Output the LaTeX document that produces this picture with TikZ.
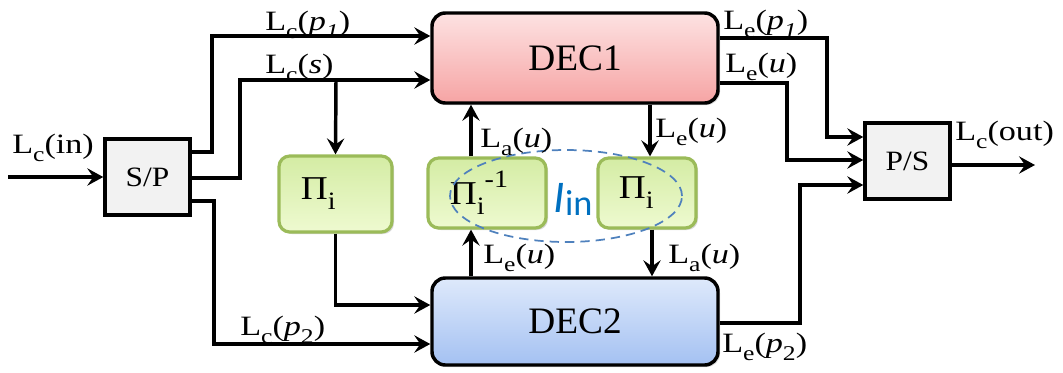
\documentclass[tikz,border=0pt]{standalone}
\usepackage{fontspec}
\setmainfont{Liberation Serif}
\newfontfamily\sffam{Carlito}
\usetikzlibrary{arrows.meta,shadows,shapes.geometric}
\definecolor{decAt}{HTML}{FDE2E2}
\definecolor{decAb}{HTML}{F6A4A4}
\definecolor{decBt}{HTML}{DEE9FB}
\definecolor{decBb}{HTML}{A4C1F2}
\definecolor{piT}{HTML}{D4ECA4}
\definecolor{piB}{HTML}{EEFAD0}
\definecolor{piBorder}{HTML}{9BBB59}
\definecolor{ellBlue}{HTML}{4F81BD}
\definecolor{iinBlue}{HTML}{0070C0}
\definecolor{spFill}{HTML}{F2F2F2}
\newcommand\dn[1]{\raisebox{-0.3em}{\scalebox{0.75}{#1}}}
\newcommand\upp[1]{\raisebox{0.5em}{\scalebox{0.75}{#1}}}
\newcommand\lbltext[1]{\scalebox{1.22}[1]{#1}}
\newcommand\boxtext[1]{\scalebox{1.12}[1]{#1}}
\begin{document}
\begin{tikzpicture}[x=0.75pt,y=-0.75pt,
  ln/.style={line width=2.6pt},
  arr/.style={line width=2.6pt,-{Stealth[length=12pt,width=13pt,inset=4.5pt]}},
  shad/.style={drop shadow={shadow xshift=1.5pt,shadow yshift=-1.5pt,opacity=0.3}},
  decbox/.style={draw=black,line width=2.6pt,rounded corners=10pt,inner sep=0pt,shad,
    font=\fontsize{28}{32}\selectfont},
  pibox/.style={draw=piBorder,line width=2.4pt,rounded corners=8pt,inner sep=0pt,shad,
    top color=piT,bottom color=piB,font=\fontsize{25}{30}\selectfont},
  sqbox/.style={draw=black,line width=2.6pt,inner sep=0pt,fill=spFill,shad,
    font=\fontsize{21}{24}\selectfont},
  lbl/.style={inner sep=0pt,anchor=base west,font=\fontsize{21}{24}\selectfont}
]
\useasboundingbox (0,0) rectangle (1063,372);

% boxes
\node[sqbox,minimum width=63.75pt,minimum height=57pt] (sp) at (147.5,177) {\boxtext{S/P}};
\node[sqbox,minimum width=63.75pt,minimum height=57pt] (ps) at (907.5,161) {\boxtext{P/S}};
\node[decbox,top color=decAt,bottom color=decAb,minimum width=214.5pt,minimum height=67.5pt] (dec1) at (575,58) {\raisebox{-2pt}{DEC1}};
\node[decbox,top color=decBt,bottom color=decBb,minimum width=214.5pt,minimum height=65.25pt] (dec2) at (575,321.5) {\raisebox{-2pt}{DEC2}};
\node[pibox,minimum width=84.75pt,minimum height=57pt] (pi1) at (335.5,194) {\boxtext{Π\dn{i}}\kern26pt};
\node[pibox,minimum width=88.5pt,minimum height=52.5pt] (piinv) at (487,193) {\boxtext{Π\dn{i}\upp{-1}}\kern12pt};
\node[pibox,minimum width=73.5pt,minimum height=52.5pt] (pi2) at (647,193) {\boxtext{Π\dn{i}}\kern16pt};

% interleaver ellipse and label
\node[ellipse,draw=ellBlue,dashed,dash pattern=on 7pt off 4.5pt,line width=1.3pt,
  minimum width=174pt,minimum height=69pt,inner sep=0pt] (ell) at (566,196) {};
\node[inner sep=0pt,anchor=base,text=iinBlue,font=\fontsize{34}{38}\sffam] (iin) at (573,212)
  {\textit{I}\raisebox{-0.08em}{\scalebox{0.8}{in}}};

% input / output
\coordinate (inp) at (8,177);
\coordinate (outp) at (1035,165);
\draw[arr] (inp) -- (sp.west |- inp);
\draw[arr] (ps.east |- outp) -- (outp);

% S/P outputs
\draw[arr] (sp.east |- 0,152) -| (212,36) -- (dec1.west |- 0,36);
\draw[arr] (sp.east |- 0,178) -| (240,80) -- (dec1.west |- 0,80);
\coordinate (br) at (336,80);
\draw[arr] (br) -- (pi1.north);
\draw[arr] (sp.east |- 0,201) -| (214,344) -- (dec2.west |- 0,344);
\draw[arr] (pi1.south) |- (dec2.west |- 0,305);

% exchanges
\draw[arr] (piinv.north -| 471,0) -- (dec1.south -| 471,0);
\draw[arr] (dec1.south -| 650,0) -- (pi2.north -| 650,0);
\draw[arr] (dec2.north -| 471,0) -- (piinv.south -| 471,0);
\draw[arr] (pi2.south -| 652,0) -- (dec2.north -| 652,0);

% decoder outputs
\draw[arr] (dec1.east |- 0,38) -| (827,137) -- (ps.west |- 0,137);
\draw[arr] (dec1.east |- 0,83) -| (787,160) -- (ps.west |- 0,160);
\draw[arr] (dec2.east |- 0,323) -| (800,185) -- (ps.west |- 0,185);

% labels
\node[lbl] (lin) at (12,153) {\lbltext{L\dn{c}(in)}};
\node[lbl] (lp1) at (265,30) {\lbltext{L\dn{c}(\textit{p}\dn{\textit{1}})}};
\node[lbl] (ls) at (265,73) {\lbltext{L\dn{c}(\textit{s})}};
\node[lbl] (lp2) at (240,335) {\lbltext{L\dn{c}(\textit{p}\dn{2})}};
\node[lbl] (lep1) at (723,29) {\lbltext{L\dn{e}(\textit{p}\dn{\textit{1}})}};
\node[lbl] (leu1) at (725,72) {\lbltext{L\dn{e}(\textit{u})}};
\node[lbl] (lau1) at (480,147) {\lbltext{L\dn{a}(\textit{u})}};
\node[lbl] (leu2) at (655,137) {\lbltext{L\dn{e}(\textit{u})}};
\node[lbl] (leu3) at (483,263) {\lbltext{L\dn{e}(\textit{u})}};
\node[lbl] (lau2) at (668,263) {\lbltext{L\dn{a}(\textit{u})}};
\node[lbl] (lep2) at (722,352) {\lbltext{L\dn{e}(\textit{p}\dn{2})}};
\node[lbl] (lout) at (955,140) {\lbltext{L\dn{c}(out)}};
\end{tikzpicture}
\end{document}
